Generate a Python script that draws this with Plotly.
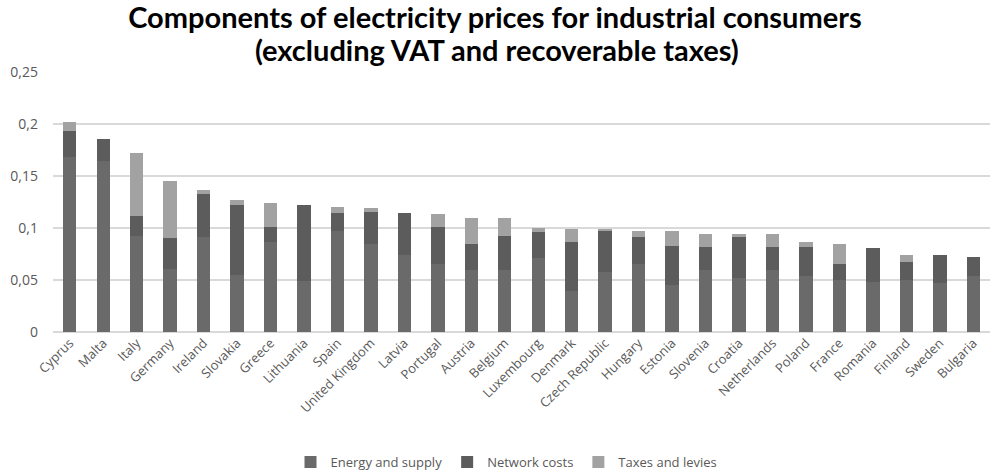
import plotly.graph_objects as go

countries = ["Cyprus", "Malta", "Italy", "Germany", "Ireland", "Slovakia", "Greece",
             "Lithuania", "Spain", "United Kingdom", "Latvia", "Portugal", "Austria",
             "Belgium", "Luxembourg", "Denmark", "Czech Republic", "Hungary", "Estonia",
             "Slovenia", "Croatia", "Netherlands", "Poland", "France", "Romania",
             "Finland", "Sweden", "Bulgaria"]

energy_supply = [0.168, 0.164, 0.092, 0.061, 0.091, 0.055, 0.087, 0.049, 0.097, 0.085,
                 0.074, 0.065, 0.060, 0.060, 0.071, 0.039, 0.058, 0.065, 0.045, 0.060,
                 0.052, 0.060, 0.054, 0.050, 0.048, 0.050, 0.047, 0.054]
network_costs = [0.025, 0.022, 0.020, 0.029, 0.042, 0.067, 0.014, 0.073, 0.017, 0.030,
                 0.040, 0.036, 0.025, 0.032, 0.025, 0.048, 0.040, 0.026, 0.038, 0.022,
                 0.039, 0.022, 0.028, 0.015, 0.033, 0.017, 0.027, 0.018]
taxes_levies = [0.009, 0.000, 0.060, 0.055, 0.004, 0.005, 0.023, 0.000, 0.006, 0.004,
                0.000, 0.012, 0.025, 0.018, 0.004, 0.012, 0.001, 0.006, 0.014, 0.012,
                0.003, 0.012, 0.005, 0.020, 0.000, 0.007, 0.000, 0.000]

title_lines = ["Components of electricity prices for industrial consumers",
               "(excluding VAT and recoverable taxes)"]

series = [
    ("Energy and supply", energy_supply, "#6a6a6a"),
    ("Network costs", network_costs, "#5c5c5c"),
    ("Taxes and levies", taxes_levies, "#a2a2a2"),
]

fig = go.Figure()
for name, vals, color in series:
    fig.add_trace(go.Bar(
        x=countries, y=vals, name=name,
        marker=dict(color=color, line=dict(width=0)),
    ))

title_font = dict(family="Lato, sans-serif", size=29, color="black", weight=900)

fig.update_layout(
    barmode="stack",
    bargap=0.6,
    width=990, height=473,
    margin=dict(l=53, r=0, t=72, b=141, autoexpand=False),
    paper_bgcolor="white", plot_bgcolor="white",
    separators=", ",
    font=dict(family="Open Sans, sans-serif", color="#595959", size=13),
    title=dict(
        text="<b>" + title_lines[0] + "</b>",
        x=0.5, xanchor="center", yref="container", y=1 - 18 / 473, yanchor="middle",
        font=title_font,
    ),
    legend=dict(
        orientation="h", x=0.484, xanchor="center", y=-0.5, yanchor="middle",
        font=dict(size=13, color="#595959"), traceorder="normal", itemwidth=30,
    ),
    xaxis=dict(
        tickangle=-45, showgrid=False, zeroline=False, showline=False,
        tickfont=dict(size=13, color="#595959"), ticks="", automargin=False,
    ),
    yaxis=dict(
        range=[0, 0.25], dtick=0.05, showgrid=True, gridcolor="#d9d9d9", gridwidth=1.5,
        zeroline=True, zerolinecolor="#d9d9d9", zerolinewidth=1.5,
        tickfont=dict(size=14, color="#595959"), ticks="", ticklabelstandoff=14,
        automargin=False,
    ),
)

# Second title line, centred on the page under the first
fig.add_annotation(
    text="<b>" + title_lines[1] + "</b>",
    xref="paper", yref="paper", x=(497 - 53) / 937, xanchor="center",
    y=1 + (72 - 49) / 260, yanchor="middle", showarrow=False,
    font=title_font,
)

fig.write_html("out.html")
